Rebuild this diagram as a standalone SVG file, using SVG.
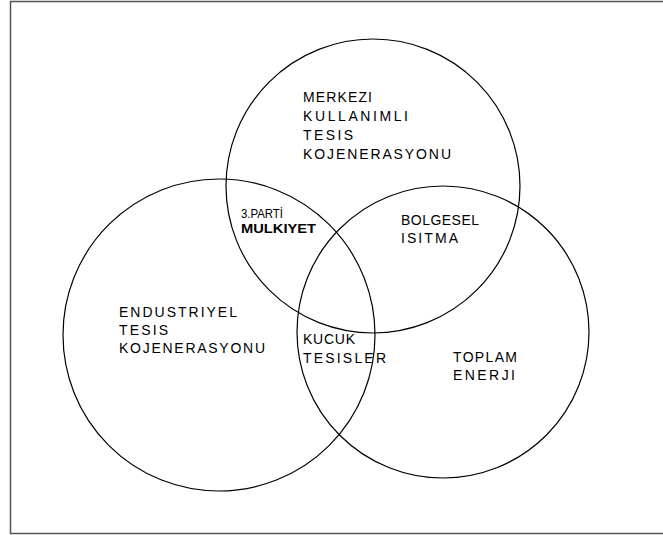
<svg xmlns="http://www.w3.org/2000/svg" width="663" height="535" viewBox="0 0 663 535">
<style>
.c{fill:none;stroke:#000;stroke-width:1.2}
.t{font-family:"Liberation Sans",Arial,sans-serif;font-size:14px;fill:#000}
.a{font-family:"Liberation Sans",Arial,sans-serif;font-size:12px;fill:#000}
.b{font-family:"Liberation Sans",Arial,sans-serif;font-size:13px;font-weight:bold;fill:#000}
</style>
<rect x="0" y="0" width="663" height="535" fill="#fff"/>
<rect id="frame" x="10.5" y="1.5" width="680" height="532" fill="none" stroke="#555" stroke-width="1.5"/>
<g id="connectors"></g>
<g id="circle-top"><circle class="c" cx="373" cy="186" r="147"/></g>
<g id="circle-left"><circle class="c" cx="219" cy="335" r="156"/></g>
<g id="circle-right"><circle class="c" cx="443" cy="332" r="146"/></g>
<g id="label-merkezi">
<text class="t" x="303" y="102" textLength="69" lengthAdjust="spacing">MERKEZI</text>
<text class="t" x="303" y="121" textLength="105" lengthAdjust="spacing">KULLANIMLI</text>
<text class="t" x="303" y="140" textLength="50" lengthAdjust="spacing">TESIS</text>
<text class="t" x="303" y="159" textLength="148" lengthAdjust="spacing">KOJENERASYONU</text>
</g>
<g id="label-3parti">
<text class="a" x="241" y="218" textLength="42" lengthAdjust="spacingAndGlyphs">3.PARTİ</text>
<text class="b" x="241" y="233" textLength="75" lengthAdjust="spacingAndGlyphs">MULKIYET</text>
</g>
<g id="label-bolgesel">
<text class="t" x="401" y="224.5" textLength="78" lengthAdjust="spacing">BOLGESEL</text>
<text class="t" x="401" y="243" textLength="57" lengthAdjust="spacing">ISITMA</text>
</g>
<g id="label-endustriyel">
<text class="t" x="119" y="317" textLength="118" lengthAdjust="spacing">ENDUSTRIYEL</text>
<text class="t" x="119" y="335" textLength="49" lengthAdjust="spacing">TESIS</text>
<text class="t" x="119" y="353" textLength="146" lengthAdjust="spacing">KOJENERASYONU</text>
</g>
<g id="label-kucuk">
<text class="t" x="303" y="343.5" textLength="52" lengthAdjust="spacing">KUCUK</text>
<text class="t" x="303" y="362.5" textLength="83" lengthAdjust="spacing">TESISLER</text>
</g>
<g id="label-toplam">
<text class="t" x="453" y="362" textLength="64" lengthAdjust="spacing">TOPLAM</text>
<text class="t" x="453" y="380" textLength="62" lengthAdjust="spacing">ENERJI</text>
</g>
</svg>
